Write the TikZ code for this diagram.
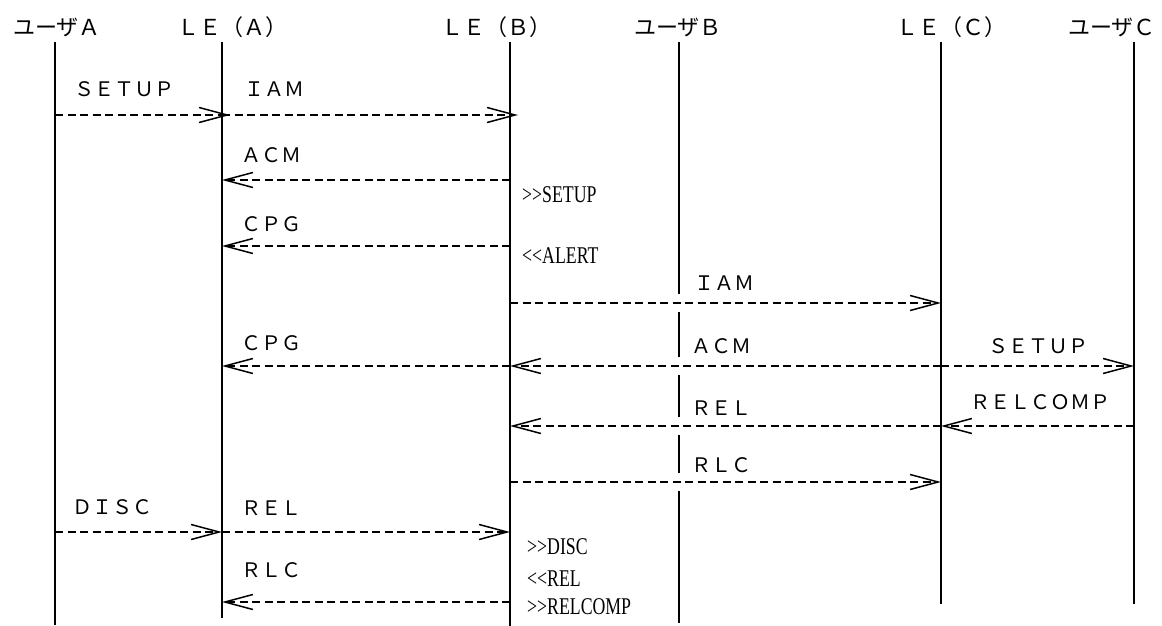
\documentclass[tikz,border=0pt]{standalone}
\usepackage{fontspec}
\newfontfamily\jpfont{Noto Sans CJK JP}
\newfontfamily\notefont[FakeStretch=0.74]{Liberation Serif}
\usetikzlibrary{arrows.meta, positioning}

\tikzset{
  life/.style={line width=1.5pt},
  msg/.style={line width=1.4pt, dash pattern=on 8pt off 4.5pt,
    -{Straight Barb[length=28pt, width=15pt, line width=1.5pt]}},
  head/.style={font=\jpfont\fontsize{22}{22}\selectfont, inner sep=0pt},
  lbl/.style={font=\jpfont\fontsize{20}{20}\selectfont, inner sep=0pt},
  note/.style={font=\notefont\fontsize{24}{24}\selectfont, inner sep=0pt, anchor=west},
}

\begin{document}
\begin{tikzpicture}[x=1pt, y=-1pt]
  \useasboundingbox (0,0) rectangle (1162,626);

  % heads
  \node[head] (uaH) at (57,27) {ユーザＡ};
  \node[head] (leaH) at (232,27) {ＬＥ（Ａ）};
  \node[head] (lebH) at (496,27) {ＬＥ（Ｂ）};
  \node[head] (ubH) at (678,27) {ユーザＢ};
  \node[head] (lecH) at (951,27) {ＬＥ（Ｃ）};
  \node[head] (ucH) at (1112,27) {ユーザＣ};

  % lifelines
  \foreach \n/\x/\b in {ua/55/625, lea/222/618, leb/510/626, ub/679/623, lec/941/604, uc/1134/604} {
    \coordinate (\n) at (\x,42);
    \coordinate (\n B) at (\x,\b);
    \draw[life] (\n) -- (\n B);
  }

  % message rows
  \coordinate (r1) at (0,115);
  \coordinate (r2) at (0,180);
  \coordinate (r3) at (0,246);
  \coordinate (r4) at (0,303);
  \coordinate (r5) at (0,366);
  \coordinate (r6) at (0,426);
  \coordinate (r7) at (0,482);
  \coordinate (r8) at (0,532);
  \coordinate (r9) at (0,602);

  % breaks in the lifeline of user B
  \foreach \r in {r4,r5,r6,r7}
    \draw[white, line width=4pt] ([yshift=9pt]ub |- \r) -- ([yshift=-9pt]ub |- \r);

  \draw[msg, shorten >=-8pt] (ua |- r1) -- (lea |- r1);
  \draw[msg, shorten >=-8pt] (lea |- r1) -- (leb |- r1);
  \draw[msg] (leb |- r2) -- (lea |- r2);
  \draw[msg] (leb |- r3) -- (lea |- r3);
  \draw[msg] (leb |- r4) -- (lec |- r4);
  \draw[msg] (leb |- r5) -- (lea |- r5);
  \draw[msg] (lec |- r5) -- (leb |- r5);
  \draw[msg] (lec |- r5) -- (uc |- r5);
  \draw[msg] (lec |- r6) -- (leb |- r6);
  \draw[msg] (uc |- r6) -- (lec |- r6);
  \draw[msg] (leb |- r7) -- (lec |- r7);
  \draw[msg] (ua |- r8) -- (lea |- r8);
  \draw[msg] (lea |- r8) -- (leb |- r8);
  \draw[msg] (leb |- r9) -- (lea |- r9);

  % labels
  \node[lbl, anchor=west] (setupA) at (74,89) {ＳＥＴＵＰ};
  \node[lbl, anchor=west] (iamA) at (244,89) {ＩＡＭ};
  \node[lbl, anchor=west] (acmA) at (241,155) {ＡＣＭ};
  \node[lbl, anchor=west] (cpgA) at (241,224) {ＣＰＧ};
  \node[lbl] (iamB) at (724,283) {ＩＡＭ};
  \node[lbl, anchor=west] (cpgB) at (241,343) {ＣＰＧ};
  \node[lbl] (acmB) at (721,346) {ＡＣＭ};
  \node[lbl] (setupC) at (1038,346) {ＳＥＴＵＰ};
  \node[lbl] (relB) at (721,408) {ＲＥＬ};
  \node[lbl] (relcompC) at (1040,402) {ＲＥＬＣＯＭＰ};
  \node[lbl] (rlcB) at (721,465) {ＲＬＣ};
  \node[lbl, anchor=west] (discA) at (72,507) {ＤＩＳＣ};
  \node[lbl, anchor=west] (relA) at (241,508) {ＲＥＬ};
  \node[lbl, anchor=west] (rlcA) at (241,570) {ＲＬＣ};

  % notes at LE (B)
  \node[note] (setupN) at (522,195) {>>SETUP};
  \node[note] (alertN) at (522,256) {<<ALERT};
  \node[note] (discN) at (527,547) {>>DISC};
  \node[note] (relN) at (527,579) {<<REL};
  \node[note] (relcompN) at (527,607) {>>RELCOMP};
\end{tikzpicture}
\end{document}
